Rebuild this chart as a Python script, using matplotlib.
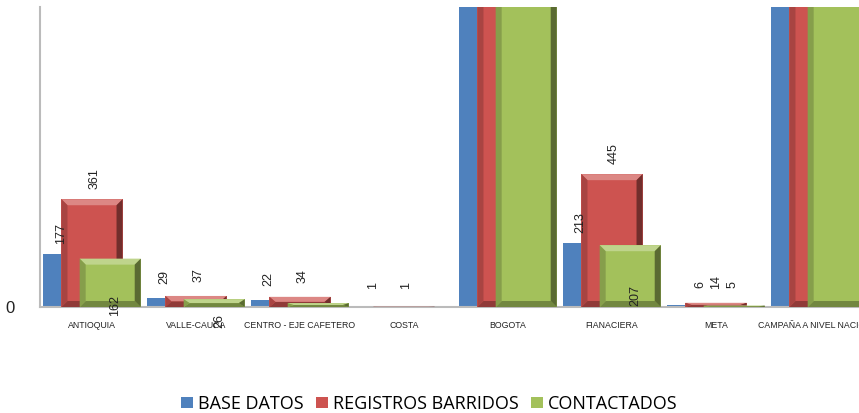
import matplotlib
matplotlib.use("Agg")
import matplotlib.pyplot as plt
from matplotlib.patches import Polygon, Patch
import numpy as np

# ---- data (Bogota / Campaña run off the top) ----
categories = ["ANTIOQUIA", "VALLE-CAUCA", "CENTRO - EJE CAFETERO", "COSTA",
              "BOGOTA", "FIANACIERA", "META", "CAMPAÑA A NIVEL NACIONAL"]
base_datos = [177, 29, 22, 1, 2400, 213, 6, 2600]
registros_barridos = [361, 37, 34, 1, 2500, 445, 14, 2700]
contactados = [162, 26, 13, 0, 2300, 207, 5, 2500]
series_names = ["BASE DATOS", "REGISTROS BARRIDOS", "CONTACTADOS"]
# which value labels Excel actually shows for CONTACTADOS
contactados_label = [True, True, False, False, False, True, True, False]

colors = ["#4F81BD", "#CD5350", "#A3C15B"]
Y_MAX = 1005

fig = plt.figure(figsize=(8.59, 4.13), dpi=100)
W, H = 859, 413
# plot area runs past the right edge of the picture (cropped chart)
ax = fig.add_axes([40 / W, (H - 307) / H, 832 / W, 300 / H])
ax.set_xlim(-0.5, len(categories) - 0.5)
ax.set_ylim(0, Y_MAX)

px_x = ax.transData.transform((1, 0))[0] - ax.transData.transform((0, 0))[0]
px_y = ax.transData.transform((0, 1))[1] - ax.transData.transform((0, 0))[1]


def shade(c, f):
    c = np.array(matplotlib.colors.to_rgb(c))
    if f > 0:
        return tuple(c + (1 - c) * f)
    return tuple(c * (1 + f))


def bevel(x0, w, h, color, z, size=6):
    """Excel-like bevel: light top, dark right/bottom."""
    top = min(h, Y_MAX + 50)
    bx = size / px_x
    by = min(size / px_y, top / 2)
    x1 = x0 + w
    parts = [
        ([(x0, top), (x1, top), (x1 - bx, top - by), (x0 + bx, top - by)], 0.3),
        ([(x0, 0), (x1, 0), (x1 - bx, by), (x0 + bx, by)], -0.3),
        ([(x0, 0), (x0, top), (x0 + bx, top - by), (x0 + bx, by)], -0.18),
        ([(x1, 0), (x1, top), (x1 - bx, top - by), (x1 - bx, by)], -0.45),
    ]
    for pts, f in parts:
        ax.add_patch(Polygon(pts, closed=True, facecolor=shade(color, f),
                             edgecolor="none", zorder=z + 0.1))


x = np.arange(len(categories))
width = 0.587
step = 0.175
all_series = [base_datos, registros_barridos, contactados]
for i, vals in enumerate(all_series):
    pos = x + (i - 1) * step
    bars = ax.bar(pos, vals, width, color=colors[i], zorder=2 + i)
    if i > 0:
        for b in bars:
            if b.get_height() > 0:
                bevel(b.get_x(), b.get_width(), b.get_height(), colors[i], 2 + i)

# ---- value labels, rotated like Excel ----
label_dx = [-0.30, 0.02, 0.22]
green_dy_px = [2, -14, 0, 0, 0, 12, 16, 0]
for i, vals in enumerate(all_series):
    for k, v in enumerate(vals):
        if v <= 0 or v > Y_MAX:
            continue
        if i == 2 and not contactados_label[k]:
            continue
        xc = x[k] + label_dx[i]
        if k == 6:
            xc = x[k] + (i - 1) * 0.155
        if i == 2 and k in (0, 1, 5):
            yc = green_dy_px[k] / px_y
        else:
            yc = v + 21 / px_y
        ax.text(xc, yc, str(v), rotation=90, ha="center", va="center",
                fontsize=9, color="#222222", family="Liberation Sans", zorder=10)

ax.set_xticks(x)
ax.set_xticklabels(categories, fontsize=6.3, family="Liberation Sans", color="#222222")
ax.tick_params(axis="x", length=0, pad=10)
ax.set_yticks([0])
ax.set_yticklabels(["0"], fontsize=12, family="Liberation Sans", color="#222222")
ax.tick_params(axis="y", length=0, pad=18)

for s in ["top", "right"]:
    ax.spines[s].set_visible(False)
ax.spines["left"].set_color("#BBBBBB")
ax.spines["bottom"].set_color("#BBBBBB")
ax.spines["left"].set_linewidth(1.5)
ax.spines["bottom"].set_linewidth(1.5)

handles = [Patch(facecolor=c, edgecolor="none") for c in colors]
fig.legend(handles, series_names, loc="center", bbox_to_anchor=(0.5, 1 - 404 / H),
           ncol=3, frameon=False, handlelength=0.62, handleheight=0.62,
           handletextpad=0.3, columnspacing=0.7,
           prop={"family": "Open Sans", "size": 13})

fig.savefig("out.png", dpi=100)
